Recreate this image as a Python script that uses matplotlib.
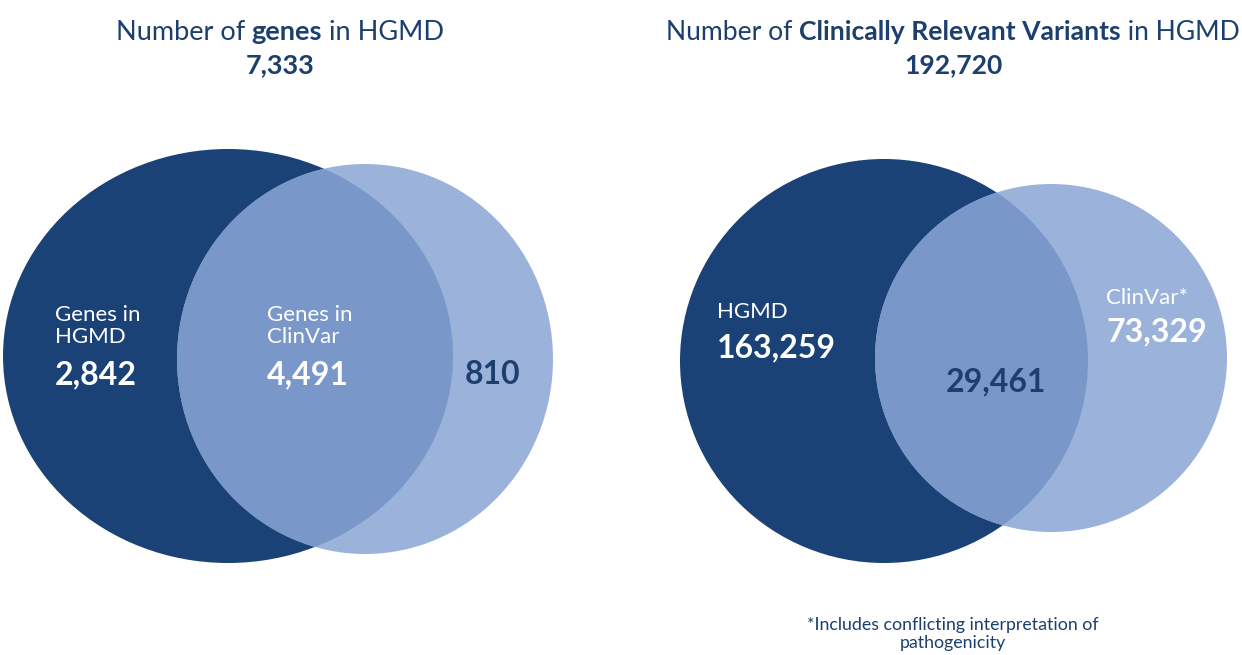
import matplotlib
matplotlib.use("Agg")
import matplotlib.pyplot as plt
from matplotlib.patches import Ellipse

# data
gene_total = "7,333"
gene_labels = ["Genes in\nHGMD", "Genes in\nClinVar", ""]
gene_counts = [2842, 4491, 810]

variant_total = "192,720"
variant_labels = ["HGMD", "", "ClinVar*"]
variant_counts = [163259, 29461, 73329]

footnote = "*Includes conflicting interpretation of\npathogenicity"

DARK = "#1b4276"
LIGHT = "#9bb3da"
OVERLAP = "#7997c8"
NAVY = "#1c3f6e"
FONT = ["Lato", "DejaVu Sans"]

W, H = 1242, 655
fig = plt.figure(figsize=(W / 100, H / 100), dpi=100)
ax = fig.add_axes([0, 0, 1, 1])
ax.set_xlim(0, W)
ax.set_ylim(H, 0)
ax.axis("off")


def venn(ax, big, small):
    (bx, by, bw, bh), (sx, sy, sw, sh) = big, small
    dark = Ellipse((bx, by), bw, bh, color=DARK, lw=0)
    ax.add_patch(dark)
    ax.add_patch(Ellipse((sx, sy), sw, sh, color=LIGHT, lw=0))
    inter = Ellipse((sx, sy), sw, sh, color=OVERLAP, lw=0)
    ax.add_patch(inter)
    inter.set_clip_path(dark)


def rich_line(ax, cx, y, parts, size):
    texts = [ax.text(0, y, s, fontsize=size, fontweight=w, color=NAVY,
                     family=FONT, va="baseline", ha="left")
             for s, w in parts]
    r = fig.canvas.get_renderer()
    widths = [t.get_window_extent(r).width for t in texts]
    x = cx - sum(widths) / 2
    for t, wd in zip(texts, widths):
        t.set_x(x)
        x += wd


def fmt(n):
    return f"{n:,}"


venn(ax, (228, 356, 450, 414), (365, 359, 376, 390))
venn(ax, (884, 361, 408, 404), (1051, 358, 352, 348))

# titles
rich_line(ax, 280, 40, [("Number of ", "normal"), ("genes", "bold"), (" in HGMD", "normal")], 19.5)
ax.text(280, 73, gene_total, fontsize=19.5, fontweight="bold", color=NAVY,
        family=FONT, ha="center", va="baseline")
rich_line(ax, 953, 40, [("Number of ", "normal"), ("Clinically Relevant Variants", "bold"),
                        (" in HGMD", "normal")], 19.1)
ax.text(953, 73, variant_total, fontsize=19.1, fontweight="bold", color=NAVY,
        family=FONT, ha="center", va="baseline")

# left venn labels
lab_kw = dict(fontsize=16, family=FONT, va="baseline", ha="left", linespacing=1.15)
num_kw = dict(fontsize=23, fontweight="bold", family=FONT, va="baseline", ha="left")
ax.text(55, 343, gene_labels[0], color="white", **lab_kw)
ax.text(55, 384, fmt(gene_counts[0]), color="white", **num_kw)
ax.text(267, 343, gene_labels[1], color="white", **lab_kw)
ax.text(267, 384, fmt(gene_counts[1]), color="white", **num_kw)
ax.text(465, 384, fmt(gene_counts[2]), color=NAVY, **num_kw)

# right venn labels
ax.text(717, 318, variant_labels[0], color="white", **lab_kw)
ax.text(717, 357, fmt(variant_counts[0]), color="white", **num_kw)
ax.text(946, 391, fmt(variant_counts[1]), color=NAVY, **num_kw)
ax.text(1106, 304, variant_labels[2], color="white", **lab_kw)
ax.text(1106, 341, fmt(variant_counts[2]), color="white", **num_kw)

ax.text(953, 648, footnote, fontsize=12.8, family=FONT, color=NAVY,
        ha="center", va="baseline", linespacing=1.15)

fig.savefig("out.png", dpi=100)
